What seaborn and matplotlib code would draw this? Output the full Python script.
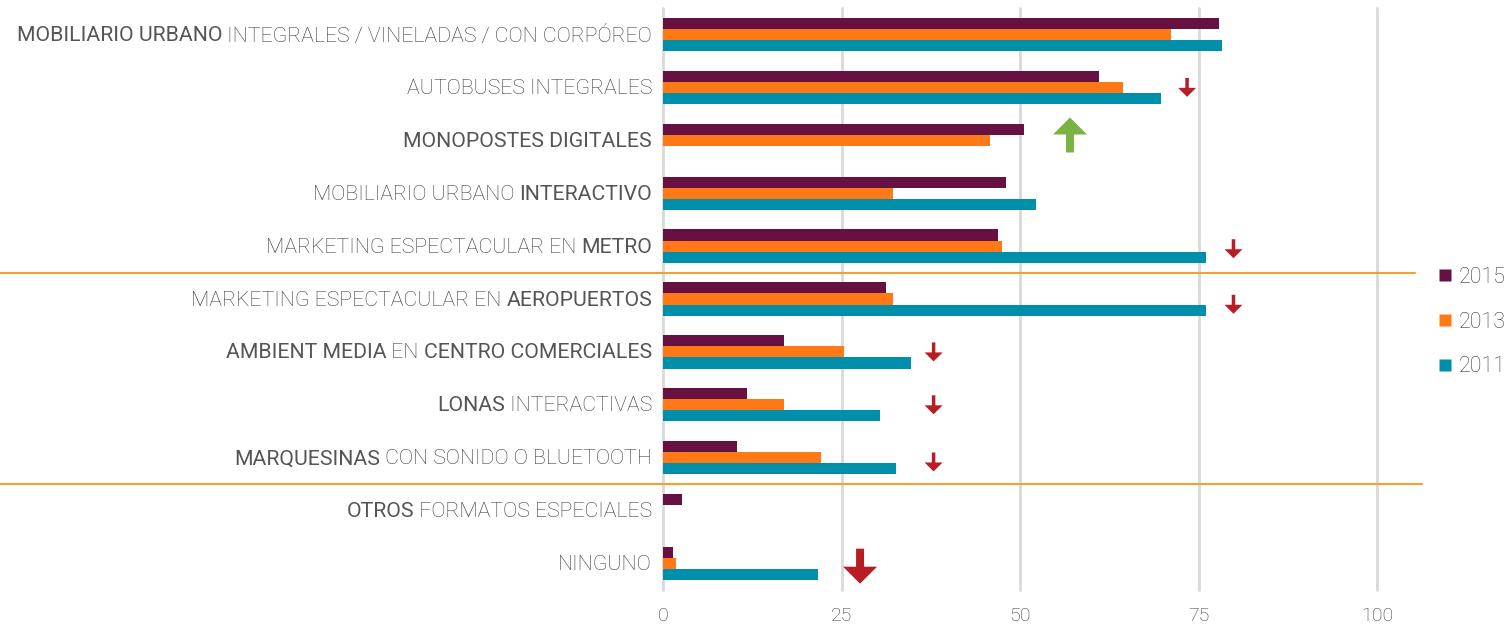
import numpy as np
import pandas as pd
import seaborn as sns
import matplotlib.pyplot as plt
import matplotlib.transforms as mtransforms
from matplotlib.patches import Polygon
from matplotlib.lines import Line2D

# -----------------------------------------------------------------------------
# Data
# -----------------------------------------------------------------------------
categories = [
    "Mobiliario urbano integrales", "Autobuses integrales", "Monopostes digitales",
    "Mobiliario urbano interactivo", "Marketing metro", "Marketing aeropuertos",
    "Ambient media", "Lonas interactivas", "Marquesinas", "Otros", "Ninguno",
]
years = ["2015", "2013", "2011"]
values_2015 = [77.9, 61.0, 50.6, 48.1, 46.9, 31.2, 16.9, 11.7, 10.4, 2.7, 1.4]
values_2013 = [71.2, 64.4, 45.8, 32.2, 47.5, 32.2, 25.4, 16.9, 22.1, np.nan, 1.8]
values_2011 = [78.3, 69.7, np.nan, 52.2, 76.1, 76.1, 34.8, 30.4, 32.6, np.nan, 21.7]

# label pieces: (text, emphasised)
label_parts = [
    [("MOBILIARIO URBANO", True), (" INTEGRALES / VINELADAS / CON CORPÓREO", False)],
    [("AUTOBUSES INTEGRALES", False)],
    [("MONOPOSTES DIGITALES", True)],
    [("MOBILIARIO URBANO ", False), ("INTERACTIVO", True)],
    [("MARKETING ESPECTACULAR EN ", False), ("METRO", True)],
    [("MARKETING ESPECTACULAR EN ", False), ("AEROPUERTOS", True)],
    [("AMBIENT MEDIA", True), (" EN ", False), ("CENTRO COMERCIALES", True)],
    [("LONAS", True), (" INTERACTIVAS", False)],
    [("MARQUESINAS", True), (" CON SONIDO O BLUETOOTH", False)],
    [("OTROS", True), (" FORMATOS ESPECIALES", False)],
    [("NINGUNO", False)],
]

# trend arrows: category index, x value, direction, size
arrow_cats = [1, 2, 4, 5, 6, 7, 8, 10]
arrow_x = [73.4, 57.0, 79.9, 79.9, 37.9, 37.9, 37.9, 27.6]
arrow_dir = ["down", "up", "down", "down", "down", "down", "down", "down"]
arrow_big = [False, True, False, False, False, False, False, True]
arrow_dy = [0.0, -0.1, 0.05, 0.1, 0.0, 0.0, 0.08, 0.05]

x_ticks = [0, 25, 50, 75, 100]
separators = [4.5, 8.5]

palette = {"2015": "#661141", "2013": "#FF7A17", "2011": "#008FAA"}
TEXT_COLOR = "#555555"
LIGHT_COLOR = "#3a3a3a"
FONT = "Roboto"

# -----------------------------------------------------------------------------
# Build tidy frame
# -----------------------------------------------------------------------------
df = pd.DataFrame({"category": categories, "2015": values_2015,
                   "2013": values_2013, "2011": values_2011})
tidy = df.melt(id_vars="category", var_name="year", value_name="value")

# -----------------------------------------------------------------------------
# Plot
# -----------------------------------------------------------------------------
sns.set_style("white")
plt.rcParams["font.family"] = [FONT, "DejaVu Sans"]

fig = plt.figure(figsize=(15.1, 6.25), dpi=100)
ax = fig.add_axes([663 / 1510, 1 - 590 / 625, (1377 - 663) / 1510, 582 / 625])

sns.barplot(data=tidy, y="category", x="value", hue="year", hue_order=years,
            order=categories, palette=palette, orient="h", width=0.63,
            saturation=1, linewidth=0, ax=ax, legend=False)

ax.set_xlim(0, 100)
ax.set_ylim(len(categories) - 0.5, -0.5)
ax.set_xticks(x_ticks)
ax.set_xticklabels([str(t) for t in x_ticks], fontsize=14, color=LIGHT_COLOR,
                   fontweight="light")
ax.tick_params(axis="x", length=0, pad=12)
ax.set_yticks([])
ax.set_xlabel("")
ax.set_ylabel("")
for s in ax.spines.values():
    s.set_visible(False)
for t in x_ticks:
    ax.axvline(t, color="#D9D9D9", lw=2, zorder=0, clip_on=False)

# orange separators spanning into the label area
blend = mtransforms.blended_transform_factory(fig.transFigure, ax.transData)
ax.plot([0, 1415 / 1510], [separators[0]] * 2, color="#F7A030", lw=1.5,
        transform=blend, clip_on=False)
ax.plot([0, 1422 / 1510], [separators[1]] * 2, color="#F7A030", lw=1.5,
        transform=blend, clip_on=False)

# mixed-weight category labels, laid out right to left
renderer = fig.canvas.get_renderer()
anchor_px = 652
for i, parts in enumerate(label_parts):
    right = anchor_px
    for text, strong in reversed(parts):
        t = fig.text(right / 1510, i + 0.02, text, ha="right", va="center",
                     fontsize=15.3, color=TEXT_COLOR if strong else LIGHT_COLOR,
                     fontweight="normal" if strong else "light",
                     transform=blend)
        right -= t.get_window_extent(renderer).width

# arrows (shape in inches, anchored at data point)
def arrow_shape(big, direction):
    if big:
        hw, hl, sw, L = 0.34, 0.17, 0.08, 0.35
    else:
        hw, hl, sw, L = 0.18, 0.09, 0.035, 0.19
    half = L / 2
    pts = [(-sw / 2, half), (sw / 2, half), (sw / 2, -half + hl),
           (hw / 2, -half + hl), (0, -half), (-hw / 2, -half + hl),
           (-sw / 2, -half + hl)]
    if direction == "up":
        pts = [(x, -y) for x, y in pts]
    return pts

for c, xv, d, big, dy in zip(arrow_cats, arrow_x, arrow_dir, arrow_big, arrow_dy):
    trans = fig.dpi_scale_trans + mtransforms.ScaledTranslation(xv, c + dy, ax.transData)
    color = "#7AB244" if d == "up" else "#B81D24"
    ax.add_patch(Polygon(arrow_shape(big, d), closed=True, facecolor=color,
                         edgecolor="none", transform=trans, clip_on=False))

# legend
handles = [Line2D([0], [0], marker="s", linestyle="none", markersize=9,
                  markerfacecolor=palette[y], markeredgecolor="none") for y in years]
leg = fig.legend(handles, years, loc="center left",
                 bbox_to_anchor=(1439 / 1510, 1 - 322 / 625), frameon=False,
                 borderpad=0, borderaxespad=0,
                 handlelength=0.6, handletextpad=0.3, labelspacing=1.1,
                 prop={"family": FONT, "size": 15.5, "weight": "light"})
for txt in leg.get_texts():
    txt.set_color(LIGHT_COLOR)

fig.savefig("out.png", dpi=100)
